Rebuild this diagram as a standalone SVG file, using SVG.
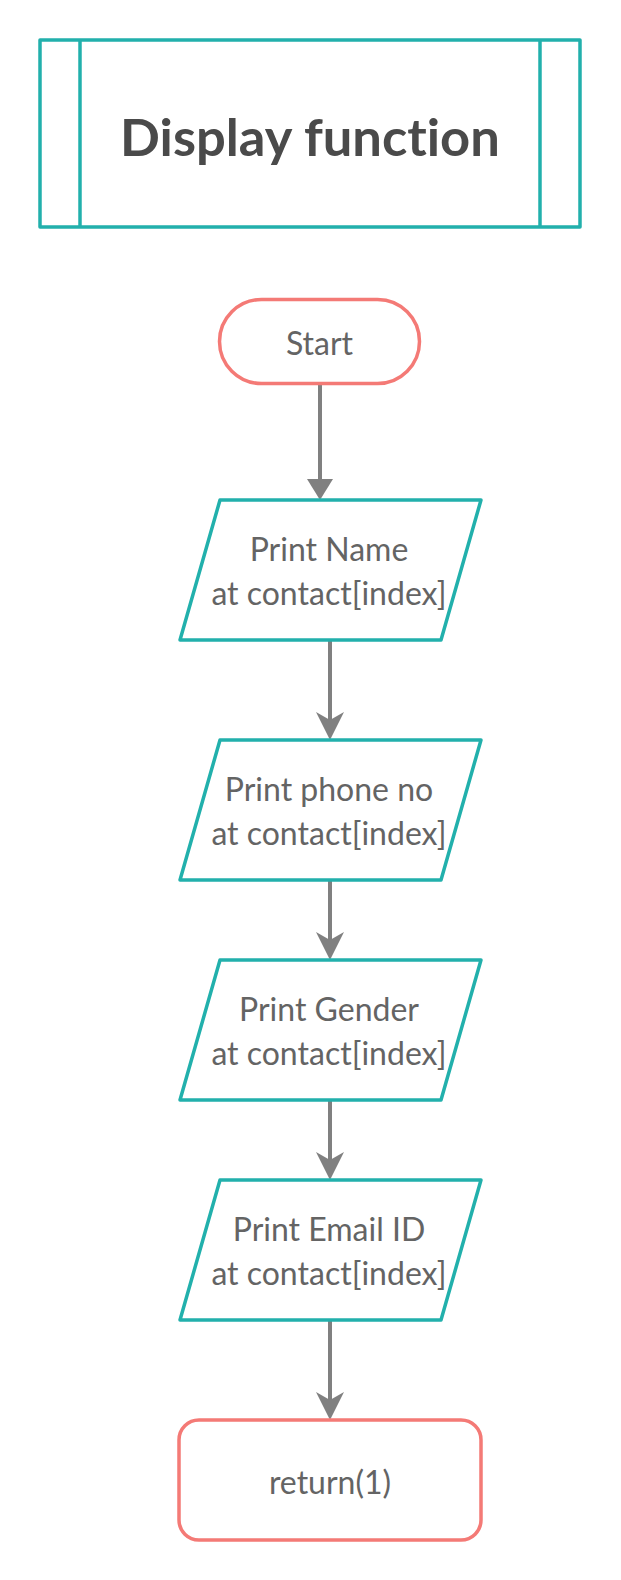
<svg xmlns="http://www.w3.org/2000/svg" width="621" height="1580" viewBox="0 0 621 1580">
<style>
.teal{fill:#ffffff;stroke:#22b0ac;stroke-width:3.5;stroke-linejoin:round}
.coral{fill:#ffffff;stroke:#f47a76;stroke-width:3.5}
.t{font-family:Lato,"Open Sans","Liberation Sans",sans-serif;font-size:32px;fill:#646464;text-anchor:middle;font-variant-ligatures:none}
.title{font-family:Lato,"Open Sans","Liberation Sans",sans-serif;font-size:52.5px;font-weight:bold;fill:#4a4a4a;text-anchor:middle;font-variant-ligatures:none}
.conn{stroke:#808080;stroke-width:4;fill:none}
</style>
<defs>
<marker id="tri" markerUnits="userSpaceOnUse" viewBox="0 -13 21 26" refX="0" refY="0" markerWidth="21" markerHeight="26" orient="auto">
<path d="M0,-13 L21,0 L0,13 Z" fill="#808080"/>
</marker>
<marker id="arr" markerUnits="userSpaceOnUse" viewBox="0 -14 28 28" refX="8" refY="0" markerWidth="28" markerHeight="28" orient="auto">
<path d="M0,-14 L28,0 L0,14 L8,0 Z" fill="#808080"/>
</marker>
</defs>
<g id="header">
<rect class="teal" x="40" y="40" width="540" height="187"/>
<line class="teal" x1="80" y1="40" x2="80" y2="227"/>
<line class="teal" x1="540" y1="40" x2="540" y2="227"/>
<text class="title" x="310" y="156">Display function</text>
</g>
<g id="connectors">
<line class="conn" x1="320" y1="384" x2="320" y2="479" marker-end="url(#tri)"/>
<line class="conn" x1="330" y1="640" x2="330" y2="720" marker-end="url(#arr)"/>
<line class="conn" x1="330" y1="880" x2="330" y2="940" marker-end="url(#arr)"/>
<line class="conn" x1="330" y1="1100" x2="330" y2="1160" marker-end="url(#arr)"/>
<line class="conn" x1="330" y1="1320" x2="330" y2="1400" marker-end="url(#arr)"/>
</g>
<g id="start">
<rect class="coral" x="219.5" y="299.5" width="200" height="84" rx="42"/>
<text class="t" x="319.5" y="355">Start</text>
</g>
<g id="print-name">
<polygon class="teal" points="220,500 481,500 441,640 180,640"/>
<text class="t" x="329" y="561">Print Name</text>
<text class="t" x="329" y="605">at contact[index]</text>
</g>
<g id="print-phone">
<polygon class="teal" points="220,740 481,740 441,880 180,880"/>
<text class="t" x="329" y="801">Print phone no</text>
<text class="t" x="329" y="845">at contact[index]</text>
</g>
<g id="print-gender">
<polygon class="teal" points="220,960 481,960 441,1100 180,1100"/>
<text class="t" x="329" y="1021">Print Gender</text>
<text class="t" x="329" y="1065">at contact[index]</text>
</g>
<g id="print-email">
<polygon class="teal" points="220,1180 481,1180 441,1320 180,1320"/>
<text class="t" x="329" y="1241">Print Email ID</text>
<text class="t" x="329" y="1285">at contact[index]</text>
</g>
<g id="return">
<rect class="coral" x="179" y="1420" width="302" height="120" rx="20"/>
<text class="t" x="330" y="1494">return(1)</text>
</g>
</svg>
